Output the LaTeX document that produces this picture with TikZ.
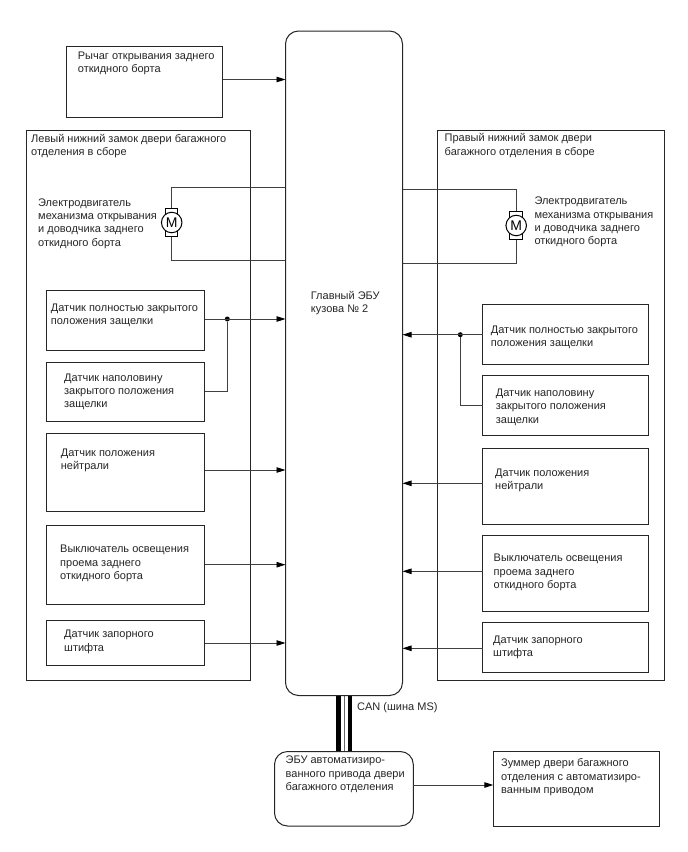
\documentclass[tikz,border=0pt]{standalone}
\usepackage{fontspec}
\setmainfont{Liberation Sans}
\usetikzlibrary{arrows.meta}
\tikzset{
  x=1bp,y=-1bp,
  block/.style={draw=black!85,line width=1bp,fill=white},
  ecu/.style={block,rounded corners=13bp},
  label/.style={anchor=north west,yshift=9bp,inner sep=0pt,align=left,
    font=\fontsize{11bp}{13.3bp}\selectfont,text=black!85,
    execute at begin node={\rule{0pt}{9bp}}},
  wire/.style={draw=black!75,line width=0.9bp},
  signal/.style={wire,-{Triangle[length=9bp,width=5.5bp,color=black]}},
  junction/.style={circle,fill=black,inner sep=0pt,minimum size=5bp},
  motorbody/.style={circle,draw=black,line width=1bp,fill=white,inner sep=0pt,minimum size=20.5bp,font=\fontsize{14bp}{14bp}\selectfont},
  motorcap/.style={draw=black,line width=1bp,fill=white,minimum width=12.5bp,minimum height=27.5bp,inner sep=0pt}
}
\begin{document}
\begin{tikzpicture}
\useasboundingbox (0,0) rectangle (688,852);
% assembly frames
\draw[block] (26.5,130) rectangle (250,680.5);
\draw[block] (437.5,130) rectangle (664,680.5);
\node[label] at (31,142.7) {Левый нижний замок двери багажного\\отделения в сборе};
\node[label] at (444.5,142.5) {Правый нижний замок двери\\багажного отделения в сборе};
% motor windings, drawn before the ECU so that they run up to its edges
\coordinate (ml) at (171.7,222.5);
\coordinate (mr) at (516.2,225.5);
\draw[wire] (286,187) -| (ml) |- (286,260.3);
\draw[wire] (402,189.5) -| (mr) |- (402,263);
\node[motorcap] (capl) at (ml) {};
\node[motorbody] (motorl) at (ml) {M};
\node[motorcap] (capr) at (mr) {};
\node[motorbody] (motorr) at (mr) {M};
\node[label] at (38,207.3) {Электродвигатель\\механизма открывания\\и доводчика заднего\\откидного борта};
\node[label] at (534.3,206) {Электродвигатель\\механизма открывания\\и доводчика заднего\\откидного борта};
% CAN bus between the two ECUs
\fill[black] (336.3,695) rectangle (351.7,752);
\fill[white] (340.7,695) rectangle (347.7,752);
\draw[black!60,line width=0.8bp] (344,695) -- (344,752);
% control units
\draw[ecu] (285.5,31) rectangle (402.5,695.5);
\node[label] (main) at (310.7,300) {Главный ЭБУ\\кузова № 2};
\draw[ecu] (274.5,751.5) rectangle (413.3,826);
\coordinate (busE) at (413.3,785);
\node[label] at (285.5,765) {ЭБУ автоматизиро-\\ванного привода двери\\багажного отделения};
\node[label] at (357,710.7) {CAN (шина MS)};
% lever and buzzer
\draw[block] (66.7,46.7) rectangle (222.7,117);
\node[label] at (77.7,60.7) {Рычаг открывания заднего\\откидного борта};
\draw[block] (493.3,751.7) rectangle (659,826);
\node[label] at (501,767.7) {Зуммер двери багажного\\отделения с автоматизиро-\\ванным приводом};
% sensors, left side
\draw[block] (46.5,290.7) rectangle (204.7,350.7);
\node[label] at (50.7,312.7) {Датчик полностью закрытого\\положения защелки};
\draw[block] (46.5,362.7) rectangle (204.7,421);
\node[label] at (64,382.3) {Датчик наполовину\\закрытого положения\\защелки};
\draw[block] (46.5,433) rectangle (204.7,511.3);
\node[label] at (60.7,457.7) {Датчик положения\\нейтрали};
\draw[block] (46.5,525.7) rectangle (204.7,604);
\node[label] at (60,554) {Выключатель освещения\\проема заднего\\откидного борта};
\draw[block] (46.5,620.7) rectangle (204.7,665.7);
\node[label] at (64,639) {Датчик запорного\\штифта};
% sensors, right side
\draw[block] (482.7,304.3) rectangle (648,364.7);
\node[label] at (490.7,334.3) {Датчик полностью закрытого\\положения защелки};
\draw[block] (482.7,375) rectangle (648,435);
\node[label] at (495.7,397.7) {Датчик наполовину\\закрытого положения\\защелки};
\draw[block] (482.7,448.7) rectangle (648,524);
\node[label] at (495,477.7) {Датчик положения\\нейтрали};
\draw[block] (482.7,535.3) rectangle (648,611);
\node[label] at (493.5,563) {Выключатель освещения\\проема заднего\\откидного борта};
\draw[block] (482.7,622.3) rectangle (648,672.3);
\node[label] at (493,644.7) {Датчик запорного\\штифта};
% signal lines
\draw[signal] (222.7,79.5) -- (285.5,79.5);
\node[junction] (jl) at (227.3,319) {};
\draw[signal] (204.7,319) -- (285.5,319);
\draw[wire] (204.7,391.7) -| (jl);
\draw[signal] (204.7,470) -- (285.5,470);
\draw[signal] (204.7,564.7) -- (285.5,564.7);
\draw[signal] (204.7,643) -- (285.5,643);
\node[junction] (jr) at (460.3,334.7) {};
\draw[signal] (482.7,334.7) -- (402.5,334.7);
\draw[wire] (482.7,405) -| (jr);
\draw[signal] (482.7,483.3) -- (402.5,483.3);
\draw[signal] (482.7,571.3) -- (402.5,571.3);
\draw[signal] (482.7,648.3) -- (402.5,648.3);
\draw[signal] (busE) -- (493.3,785);
\end{tikzpicture}
\end{document}
